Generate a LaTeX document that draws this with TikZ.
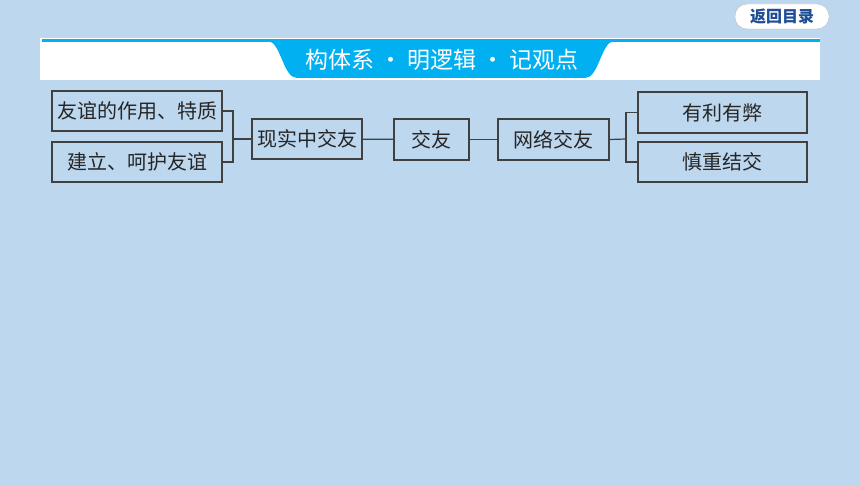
\documentclass[tikz,border=0pt]{standalone}
\usepackage{fontspec}
\newfontfamily\cjk{Noto Sans CJK SC}
\usetikzlibrary{positioning}
\definecolor{bg}{RGB}{189,215,238}
\definecolor{tab}{RGB}{0,176,240}
\definecolor{back}{RGB}{31,78,150}
\definecolor{edge}{RGB}{64,64,64}

\begin{document}
\begin{tikzpicture}[x=1pt, y=-1pt,
    box/.style={draw=edge, line width=1.2pt, inner sep=0pt, text=black!85, font=\cjk\fontsize{20}{20}\selectfont},
    line/.style={draw=edge, line width=1.2pt}]
    \useasboundingbox (0,0) rectangle (860,486);
    \fill[bg] (0,0) rectangle (860,486);

    % title band
    \fill[white] (40,38) rectangle (820,80);
    \fill[tab] (42,39) rectangle (820,42);
    \fill[tab] (268,41) .. controls (281,42) and (283,78) .. (297,78) -- (585,78) .. controls (599,78) and (601,42) .. (614,41) -- cycle;
    \node[text=white, font=\cjk\fontsize{23}{23}\selectfont] (title) at (442,60) {构体系 · 明逻辑 · 记观点};
    \node[draw=gray!50, fill=white, rounded corners=12pt, minimum width=94pt, minimum height=25pt, inner sep=0pt, text=back, font=\cjk\bfseries\fontsize{16}{16}\selectfont] (home) at (782,16.5) {返回目录};

    \node[box, minimum width=170pt, minimum height=40pt] (a) at (137,111) {友谊的作用、特质};
    \node[box, minimum width=170pt, minimum height=40pt] (b) at (137,162) {建立、呵护友谊};
    \node[box, minimum width=110pt, minimum height=40pt] (c) at (307,139) {现实中交友};
    \node[box, minimum width=75pt, minimum height=41pt] (d) at (431.5,139.5) {交友};
    \node[box, minimum width=111pt, minimum height=41pt] (e) at (553.5,139.5) {网络交友};
    \node[box, minimum width=169pt, minimum height=41pt] (f) at (722.5,112.5) {有利有弊};
    \node[box, minimum width=169pt, minimum height=40pt] (g) at (722.5,162) {慎重结交};

    \coordinate (jl) at (233,139);
    \coordinate (jr) at (626,139);

    \draw[line] (a.east) -| (jl) |- (b.east);
    \draw[line] (jl) -- (c.west);
    \draw[line] (c) -- (d);
    \draw[line] (d) -- (e);
    \draw[line] (e.east) -- (jr);
    \draw[line] (f.west) -| (jr) |- (g.west);
\end{tikzpicture}
\end{document}
